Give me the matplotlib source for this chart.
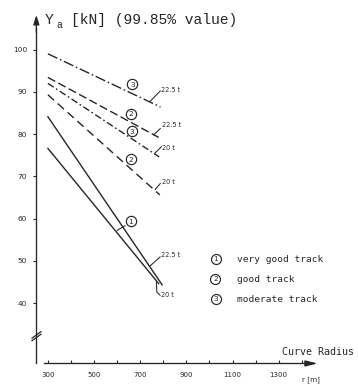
import matplotlib
matplotlib.use("Agg")
import matplotlib.pyplot as plt

plt.rcParams["lines.scale_dashes"] = False

# ---------------- data ----------------
series = ["moderate 22.5 t", "good 22.5 t", "moderate 20 t", "good 20 t",
          "very good 22.5 t", "very good 20 t"]
track_quality = [3, 2, 3, 2, 1, 1]
axle_load = ["22.5 t", "22.5 t", "20 t", "20 t", "22.5 t", "20 t"]
radius_start = [300, 300, 300, 300, 300, 300]
radius_end = [788, 780, 782, 785, 795, 780]
ya_start = [99.0, 93.4, 92.0, 89.3, 84.1, 76.6]
ya_end = [86.4, 79.2, 74.6, 65.6, 44.3, 44.6]

y_ticks = [40, 50, 60, 70, 80, 90, 100]
y_tick_labels = ["40", "50", "60", "70", "80", "90", "100"]
x_ticks = [300, 400, 500, 600, 700, 800, 900, 1000, 1100, 1200, 1300, 1400]
x_tick_labels = ["300", "", "500", "", "700", "", "900", "", "1100", "", "1300", ""]
legend_numbers = ["1", "2", "3"]
legend_labels = ["very good track", "good track", "moderate track"]

# ---------------- styles / layout ----------------
INK = "#262626"
line_styles = [(0, (7.5, 2, 1.2, 2)), (0, (6, 2.5)), (0, (5, 2, 1.2, 2)),
               (0, (6, 3.5)), "-", "-"]
label_pos = [(791, 90.5), (793, 82.2), (796, 76.6), (796, 68.7), (790, 51.4), (792, 41.85)]
leaders = [
    [(742, 87.7), (787, 90.2)],
    [(758, 79.8), (787, 81.3)],
    [(762, 75.4), (792, 77.0)],
    [(765, 66.9), (787, 68.3)],
    [(741, 48.7), (786, 50.9)],
    [(770, 44.9), (772, 42.6), (786, 41.85)],
]
circle_marks = [("3", 666, 91.75), ("2", 658, 84.8), ("3", 664, 80.7),
                ("2", 660, 74.0), ("1", 659, 59.4)]
circle1_leader = [(600, 57.2), (634, 58.3)]
legend_circle_pos = [(1027, 50.5), (1025.5, 45.75), (1027, 41.0)]
legend_text_r = 1118

fig = plt.figure(figsize=(3.58, 3.85), dpi=100)
ax = fig.add_axes([0, 0, 1, 1])
ax.set_xlim(92.5, 1643.6)
ax.set_ylim(20.6, 111.73)

# axes spines
for s in ["top", "right"]:
    ax.spines[s].set_visible(False)
ax.spines["left"].set_position(("data", 250))
ax.spines["left"].set_bounds(25.8, 105)
ax.spines["bottom"].set_position(("data", 25.7))
ax.spines["bottom"].set_bounds(285, 1440)
for s in ["left", "bottom"]:
    ax.spines[s].set_color(INK)
    ax.spines[s].set_linewidth(0.95)

ax.set_yticks(y_ticks)
ax.set_yticklabels(y_tick_labels)
ax.set_xticks(x_ticks)
ax.set_xticklabels(x_tick_labels)
ax.tick_params(axis="y", direction="out", length=2.5, width=0.8, pad=4.0,
               labelsize=5.3, colors=INK)
ax.tick_params(axis="x", direction="in", length=2.5, width=0.8, pad=6.5,
               labelsize=5.0, colors=INK)

# axis arrows
ax.annotate("", xy=(250, 108.2), xytext=(250, 104),
            arrowprops=dict(arrowstyle="-|>,head_length=0.7,head_width=0.22",
                            color=INK, lw=0.95, shrinkA=0, shrinkB=0, mutation_scale=8))
ax.annotate("", xy=(1469, 25.7), xytext=(1435, 25.7),
            arrowprops=dict(arrowstyle="-|>,head_length=0.9,head_width=0.22",
                            color=INK, lw=0.95, shrinkA=0, shrinkB=0, mutation_scale=8))

# axis break
for off in (0.0, 0.6):
    ax.plot([229, 272], [31.0 + off, 32.7 + off], color=INK, lw=0.9,
            solid_capstyle="butt", zorder=3)

# series lines
for i in range(len(series)):
    ax.plot([radius_start[i], radius_end[i]], [ya_start[i], ya_end[i]],
            color=INK, lw=1.0, linestyle=line_styles[i], zorder=2)
    pts = leaders[i]
    ax.plot([p[0] for p in pts], [p[1] for p in pts], color=INK, lw=0.75, zorder=2)
    ax.text(label_pos[i][0], label_pos[i][1], axle_load[i], fontsize=4.7,
            ha="left", va="center", color=INK)

# circled numbers on lines
ax.plot([p[0] for p in circle1_leader], [p[1] for p in circle1_leader],
        color=INK, lw=0.75, zorder=2)
for num, r, v in circle_marks:
    ax.plot(r, v, "o", ms=7.4, mfc="white", mec=INK, mew=0.85, zorder=4)
    ax.text(r, v, num, fontsize=5.4, ha="center", va="center_baseline",
            color=INK, zorder=5)

# legend
for (r, v), num, lab in zip(legend_circle_pos, legend_numbers, legend_labels):
    ax.plot(r, v, "o", ms=7.2, mfc="white", mec=INK, mew=0.85, zorder=4)
    ax.text(r, v, num, fontsize=5.2, ha="center", va="center_baseline",
            color=INK, zorder=5)
    ax.text(legend_text_r, v - 0.1, lab, fontsize=6.8, family="DejaVu Sans Mono",
            ha="left", va="center", color=INK)

# titles / axis labels
ax.text(284.4, 106.16, "Y", fontsize=10.5, family="Liberation Mono",
        ha="left", va="baseline", color=INK)
ax.text(338, 105.1, "a", fontsize=7, family="Liberation Mono",
        ha="left", va="baseline", color=INK)
ax.text(399, 105.94, "[kN] (99.85% value)", fontsize=10.5, family="Liberation Mono",
        ha="left", va="baseline", color=INK)
ax.text(1314, 28.5, "Curve Radius", fontsize=7.2, family="DejaVu Sans Mono",
        ha="left", va="center", color=INK)
ax.text(1402, 21.9, "r [m]", fontsize=5.2, ha="left", va="center", color=INK)

fig.savefig("out.png", dpi=100)
